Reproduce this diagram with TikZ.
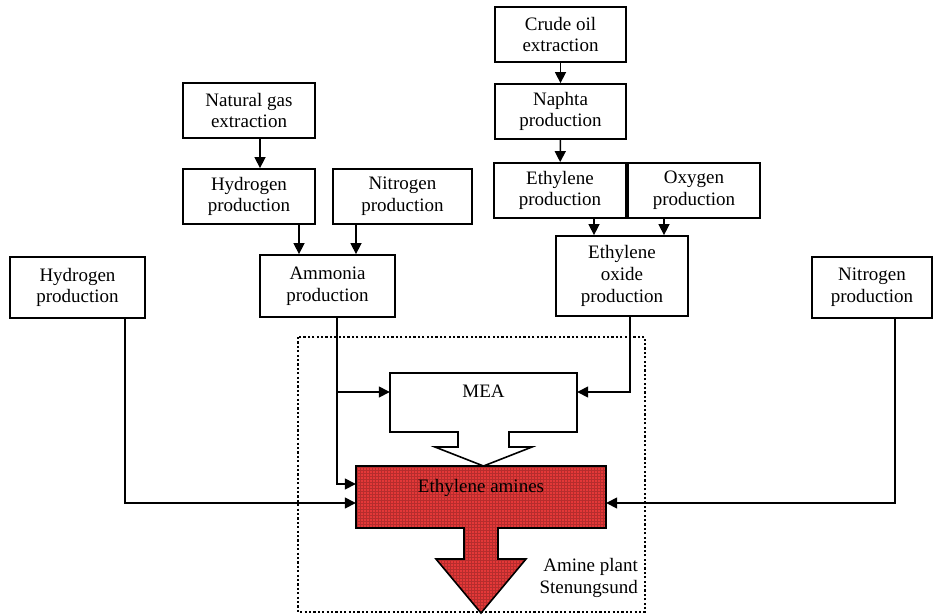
\documentclass[tikz,border=0pt]{standalone}
\usepackage{xcolor}
\usepackage{fontspec}
\setmainfont{Liberation Serif}
\usepackage{tikz}
\usetikzlibrary{arrows.meta,positioning,patterns}

\definecolor{amred}{RGB}{228,56,56}

\begin{document}
\begin{tikzpicture}[
  x=1pt, y=-1pt,
  font=\fontsize{19}{21.7}\selectfont,
  proc/.style={draw, line width=1.8pt, align=center, inner sep=2pt, minimum width=132pt, minimum height=55pt},
  arr/.style={line width=1.5pt, -{Triangle[length=11pt,width=11pt]}},
  plain/.style={inner sep=0pt, align=center, text height=13pt, text depth=23pt}
]
\useasboundingbox (0,0) rectangle (934,614);
% left chain
\node[proc] (natgas) at (249,110.5) {Natural gas\\extraction};
\node[proc] (hydro2) at (249,196.5) {Hydrogen\\production};
\node[proc, minimum width=139pt] (nitro2) at (402.5,196.5) {Nitrogen\\production};
\node[proc, minimum width=135pt, minimum height=62pt] (ammonia) at (327.5,286) {Ammonia\\production};
% right chain
\node[proc, minimum width=131pt] (crude) at (560.5,34.5) {Crude oil\\extraction};
\node[proc, minimum width=131pt] (naphta) at (560.5,111.5) {Naphta\\production};
\node[proc] (ethyl) at (560,190.5) {Ethylene\\production};
\node[proc] (oxy) at (694,190.5) {Oxygen\\production};
\node[proc, minimum height=80pt] (eo) at (622,276) {Ethylene\\oxide\\production};
% outer sources
\node[proc, minimum width=135pt, minimum height=61pt] (hydro1) at (77.5,287.5) {Hydrogen\\production};
\node[proc, minimum width=120pt, minimum height=61pt] (nitro1) at (872,287.5) {Nitrogen\\production};

% amine plant
\draw[line width=2.2pt, dash pattern=on 2.2pt off 2.2pt] (298,337) rectangle (645,612);
\draw[line width=1.6pt, fill=white] (390,373) -- (577,373) -- (577,432) -- (509,432) -- (509,447)
  -- (532,447) -- (483.5,466) -- (435,447) -- (458,447) -- (458,432) -- (390,432) -- cycle;
\node[plain, minimum width=187pt, minimum height=59pt] (mea) at (483.5,402.5) {MEA};
\draw[line width=1.6pt, preaction={fill=amred}, pattern=grid, pattern color=amred!80!black]
  (356,466) -- (606,466) -- (606,528) -- (498,528) -- (498,559) -- (526,559) -- (481,613)
  -- (436,559) -- (464,559) -- (464,528) -- (356,528) -- cycle;
\node[plain, minimum width=250pt, minimum height=62pt] (amines) at (481,497) {Ethylene amines};
\node[align=right, anchor=east, inner sep=0pt] (plant) at (638,578) {Amine plant\\Stenungsund};

% connectors
\draw[arr] (crude) -- (naphta);
\draw[arr] (naphta) -- (ethyl);
\draw[arr] ([xshift=11]natgas.south) -- ([xshift=11]natgas.south |- hydro2.north);
\draw[arr] ([xshift=50]hydro2.south) -- ([xshift=50]hydro2.south |- ammonia.north);
\draw[arr] ([xshift=-46.5]nitro2.south) -- ([xshift=-46.5]nitro2.south |- ammonia.north);
\draw[arr] ([xshift=34]ethyl.south) -- ([xshift=34]ethyl.south |- eo.north);
\draw[arr] ([xshift=-30]oxy.south) -- ([xshift=-30]oxy.south |- eo.north);
\coordinate (ammout) at ([xshift=9.5]ammonia.south);
\coordinate (meain) at ([yshift=10.5]mea.west);
\coordinate (meaeast) at ([yshift=10.5]mea.east);
\draw[arr] (ammout) |- ([yshift=13]amines.west);
\draw[arr] (ammout |- meain) -- (meain);
\draw[arr] ([xshift=8]eo.south) |- (meaeast);
\draw[arr] ([xshift=47.5]hydro1.south) |- ([yshift=-6]amines.west);
\draw[arr] ([xshift=23]nitro1.south) |- ([yshift=-6]amines.east);
\end{tikzpicture}
\end{document}
